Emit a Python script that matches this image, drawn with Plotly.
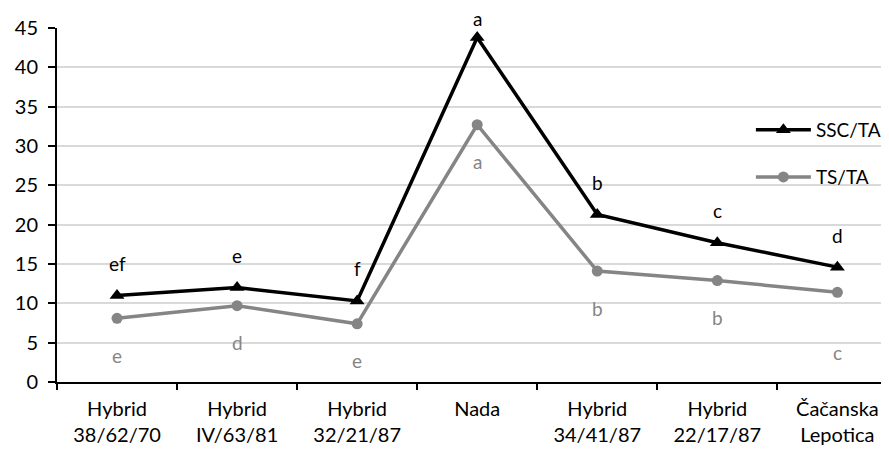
import plotly.graph_objects as go

categories = ["Hybrid<br>38/62/70", "Hybrid<br>IV/63/81", "Hybrid<br>32/21/87", "Nada",
              "Hybrid<br>34/41/87", "Hybrid<br>22/17/87", "Čačanska<br>Lepotica"]
ssc_ta = [11.0, 12.0, 10.3, 43.8, 21.3, 17.7, 14.6]
ts_ta = [8.1, 9.7, 7.4, 32.7, 14.1, 12.9, 11.4]
ssc_letters = ["ef", "e", "f", "a", "b", "c", "d"]
ts_letters = ["e", "d", "e", "a", "b", "b", "c"]

FONT = "Lato, Open Sans, sans-serif"
BLACK = "#000000"
GREY = "#858585"

fig = go.Figure()
fig.add_trace(go.Scatter(
    x=categories, y=ssc_ta, name="SSC/TA", mode="lines+markers",
    line=dict(color=BLACK, width=3.5),
    marker=dict(symbol="triangle-up", size=13, color=BLACK),
    showlegend=True, legend="legend"))
fig.add_trace(go.Scatter(
    x=categories, y=ts_ta, name="TS/TA", mode="lines+markers",
    line=dict(color=GREY, width=3.5),
    marker=dict(symbol="circle", size=11, color=GREY),
    showlegend=True, legend="legend2"))

for i, (c, v, t) in enumerate(zip(categories, ssc_ta, ssc_letters)):
    shift = 19 if i == 3 else 32
    fig.add_annotation(x=c, y=v, text=t, showarrow=False, yshift=shift,
                       font=dict(family=FONT, size=19, color=BLACK))
for i, (c, v, t) in enumerate(zip(categories, ts_ta, ts_letters)):
    shift = -60 if i == 6 else -37
    fig.add_annotation(x=c, y=v, text=t, showarrow=False, yshift=shift,
                       font=dict(family=FONT, size=19, color=GREY))

fig.update_layout(
    width=881, height=446,
    margin=dict(l=49, r=0, t=20, b=72, autoexpand=False),
    paper_bgcolor="white", plot_bgcolor="white",
    showlegend=True,
    font=dict(family=FONT, size=18, color=BLACK),
    legend=dict(x=0.834, y=0.712, xanchor="left", yanchor="middle", itemwidth=55,
                bgcolor="rgba(0,0,0,0)", font=dict(size=19)),
    legend2=dict(x=0.834, y=0.579, xanchor="left", yanchor="middle", itemwidth=55,
                 bgcolor="rgba(0,0,0,0)", font=dict(size=19)),
)
fig.update_xaxes(type="category", range=[-0.5, 6.43], showgrid=False, automargin=False,
                 showline=True, linecolor=BLACK, linewidth=2,
                 ticks="outside", tickson="boundaries", ticklen=6, tickwidth=1.5,
                 tickcolor=BLACK, ticklabelstandoff=8, tickfont=dict(size=20))
fig.update_yaxes(range=[0, 45], dtick=5, showgrid=True, gridcolor="#d9d9d9", gridwidth=1.5,
                 automargin=False,
                 showline=True, linecolor=BLACK, linewidth=2, zeroline=False,
                 ticks="outside", ticklen=7, tickwidth=1.5, tickcolor=BLACK,
                 ticklabelstandoff=6, tickfont=dict(size=20))

fig.write_html("out.html")
